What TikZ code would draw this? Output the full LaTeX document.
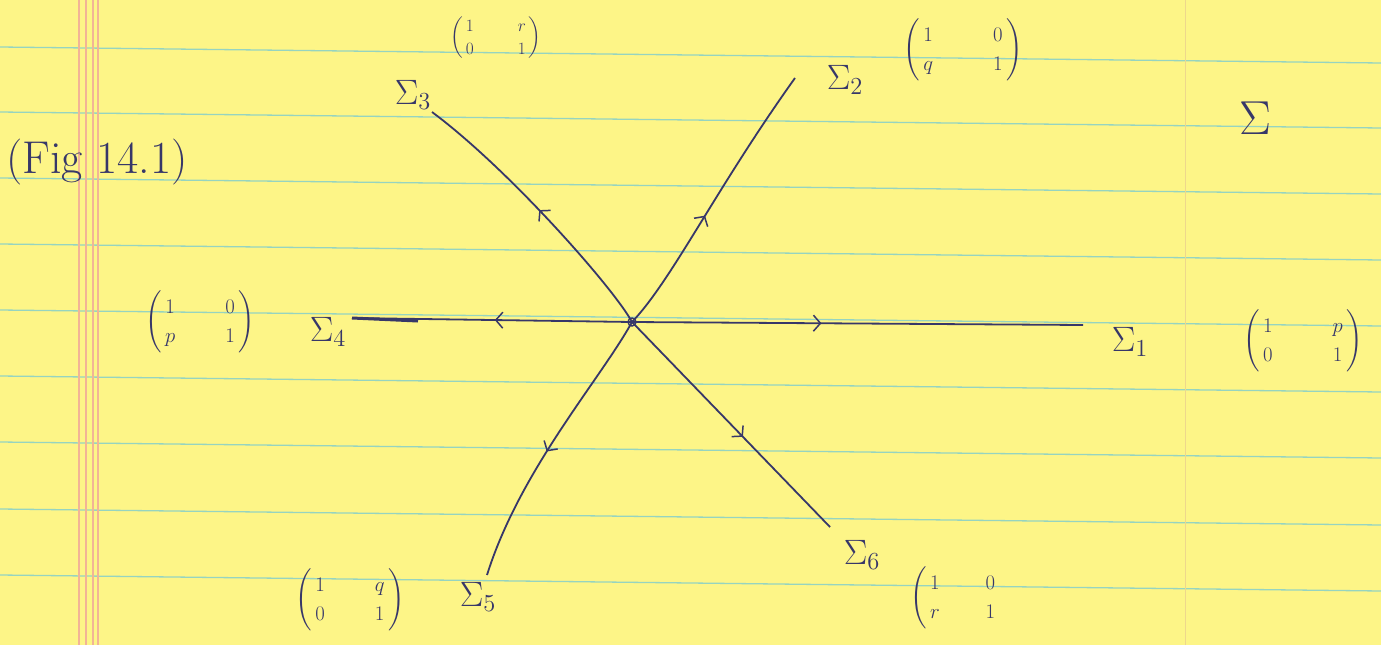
\documentclass[tikz,border=0pt]{standalone}
\usepackage{amsmath}
\usepackage{graphicx}
\usetikzlibrary{decorations.markings,arrows.meta}
\definecolor{paper}{RGB}{253,245,135}
\definecolor{rulecol}{RGB}{150,212,192}
\definecolor{margincol}{RGB}{242,180,150}
\definecolor{faintcol}{RGB}{238,215,140}
\definecolor{ink}{RGB}{55,55,105}
\newcommand{\hm}[5]{\left(\begin{array}{@{\,}c@{\hspace{#1}}c@{\,}}#2&#3\\#4&#5\end{array}\right)}
\newcommand{\hmopen}[5]{\left(\begin{array}{@{\,}c@{\hspace{#1}}c@{\,}}#2&#3\\#4&#5\end{array}\right.}
\newcommand{\sg}[2]{\scalebox{#1}{$#2$}}
\renewcommand{\arraystretch}{1.15}
\begin{document}
\begin{tikzpicture}[x=1pt,y=-1pt,
  ray/.style={draw=ink,line width=1.8pt},
  flowmark/.style={postaction={decorate,decoration={markings,
     mark=at position #1 with {\arrow[ink,line width=1.5pt]{Straight Barb[length=7pt,width=16pt]}}}}},
  siglab/.style={text=ink,inner sep=0pt,font=\fontsize{20}{24}\selectfont},
  matlab/.style={text=ink,inner sep=0pt,font=\fontsize{22}{26}\selectfont},
  handtext/.style={text=ink,inner sep=0pt,font=\fontsize{46}{52}\selectfont}]
% paper
\fill[paper] (0,0) rectangle (1381,645);
\useasboundingbox (0,0) rectangle (1381,645);
\foreach \yy in {47,112,178,244,310,376,442,509,575} {
  \draw[rulecol,line width=1.3pt] (0,\yy) -- (1381,\yy+16);
}
\foreach \xx in {79,86,93,98} {
  \draw[margincol,line width=1.2pt] (\xx,0) -- (\xx,645);
}
\draw[faintcol,line width=1pt] (1185,0) -- (1185,645);

% centre and ray ends
\node[circle,draw=ink,line width=1.4pt,inner sep=0pt,minimum size=8pt] (O) at (632,322) {};
\coordinate (e1) at (1083,325);
\coordinate (e2) at (795,78);
\coordinate (e3) at (432,112);
\coordinate (e4) at (352,318);
\coordinate (e5) at (487,575);
\coordinate (e6) at (830,527);
\coordinate (e4b) at (418,321);

% rays
\draw[ray,flowmark=0.42] (O.center) -- (e1);
\draw[ray,flowmark=0.44] (O.center) .. controls (672,280) and (715,190) .. (e2);
\draw[ray,flowmark=0.5] (O.center) .. controls (615,290) and (510,170) .. (e3);
\draw[ray,flowmark=0.49] (O.center) -- (e4);
\draw[ink,line width=3pt] (e4) -- (e4b);
\draw[ray,flowmark=0.53] (O.center) .. controls (600,380) and (520,470) .. (e5);
\draw[ray,flowmark=0.56] (O.center) -- (e6);

% labels
\node[handtext] (fig) at (97,162) {(Fig 14.1)};
\node[siglab] (s1) at (1130,342) {\sg{1.7}{\Sigma_1}};
\node[siglab] (s2) at (845,80) {\sg{1.7}{\Sigma_2}};
\node[siglab] (s3) at (413,95) {\sg{1.7}{\Sigma_3}};
\node[siglab] (s4) at (328,332) {\sg{1.7}{\Sigma_4}};
\node[siglab] (s5) at (478,597) {\sg{1.7}{\Sigma_5}};
\node[siglab] (s6) at (862,555) {\sg{1.7}{\Sigma_6}};
\node[siglab] (sig) at (1255,118) {\sg{2.3}{\Sigma}};

\node[matlab] (m1) at (1303,341) {$\hm{60pt}{1}{p}{0}{1}$};
\node[matlab] (m2) at (963,50) {$\hm{60pt}{1}{0}{q}{1}$};
\node[matlab,font=\fontsize{17}{20}\selectfont] (m3) at (496,38) {$\hm{44pt}{1}{r}{0}{1}$};
\node[matlab] (m4) at (200,322) {$\hm{50pt}{1}{0}{p}{1}$};
\node[matlab] (m5) at (350,600) {$\hm{50pt}{1}{q}{0}{1}$};
\node[matlab] (m6) at (955,598) {$\hmopen{46pt}{1}{0}{r}{1}$};
\end{tikzpicture}
\end{document}
